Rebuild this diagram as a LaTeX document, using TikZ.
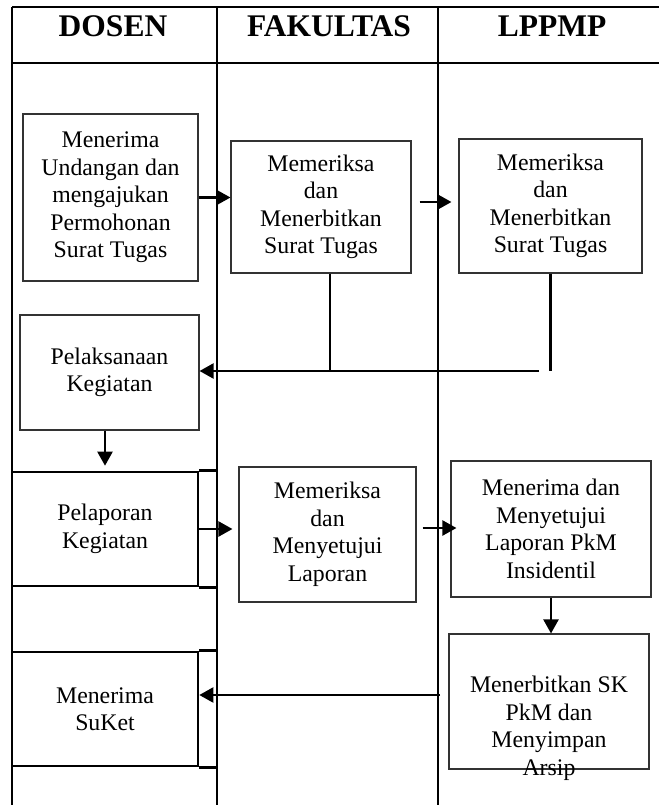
\documentclass[tikz,border=0pt]{standalone}
\usepackage{fontspec}
\setmainfont{Liberation Serif}
\usetikzlibrary{arrows.meta}
\begin{document}
\begin{tikzpicture}[x=1pt, y=-1pt,
	teks/.style = {align=center, inner sep=0pt, font=\fontsize{23.8}{27.5}\selectfont},
	kotak/.style = {teks, draw=black!80, line width=1.1pt},
	sel/.style = {teks, draw, line width=2.6pt, minimum width=186pt, minimum height=114pt},
	judul/.style = {anchor=base, font=\fontsize{31.5}{31.5}\selectfont\bfseries},
	garis/.style = {line width=2.6pt},
	sambung/.style = {line width=2.2pt},
	panah/.style = {line width=2.2pt, -{Triangle[length=14pt, width=15pt]}},]
		\useasboundingbox (0,0) rectangle (659,805);
		
		\draw[garis] (12,7) -- (659,7);
		\draw[garis] (12,63) -- (659,63);
		\draw[garis] (12,7) -- (12,805);
		\draw[garis] (217,7) -- (217,805);
		\draw[garis] (438,7) -- (438,805);
		
		\node[judul] (dosen) at (113,37) {DOSEN};
		\node[judul] (fakultas) at (329,37) {FAKULTAS};
		\node[judul] (lppmp) at (552,37) {LPPMP};
		
		\node[kotak, minimum width=175pt, minimum height=167pt] (terima) at (110.5,197.5) {Menerima\\Undangan dan\\mengajukan\\Permohonan\\Surat Tugas};
		\node[kotak, minimum width=180pt, minimum height=132pt] (periksa1) at (321,207) {Memeriksa\\dan\\Menerbitkan\\Surat Tugas};
		\node[kotak, minimum width=183pt, minimum height=134pt] (terbit) at (550.5,206) {Memeriksa\\dan\\Menerbitkan\\Surat Tugas};
		\node[kotak, minimum width=179pt, minimum height=115pt] (laksana) at (109.5,372.5) {Pelaksanaan\\Kegiatan};
		\node[sel] (lapor) at (105,529) {Pelaporan\\Kegiatan};
		\node[kotak, minimum width=177pt, minimum height=135pt] (setuju) at (327.5,534.5) {Memeriksa\\dan\\Menyetujui\\Laporan};
		\node[kotak, minimum width=200pt, minimum height=136pt] (terimalap) at (551,529) {Menerima dan\\Menyetujui\\Laporan PkM\\Insidentil};
		\node[kotak, minimum width=200pt, minimum height=135pt] (sk) at (549,701.5) {};
		\node[teks] (skteks) at ([yshift=-27pt]sk.center) {Menerbitkan SK\\PkM dan\\Menyimpan\\Arsip};
		\node[sel] (suket) at (105,709) {Menerima\\SuKet};
		
		\draw[garis] (lapor.north east) -- ++(19,0);
		\draw[garis] (lapor.south east) -- ++(19,0);
		\draw[garis] (suket.north east) -- ++(19,0);
		\draw[garis] (suket.south east) -- ++(19,0);
		
		\coordinate (belokA) at (330,371);
		\coordinate (belokB) at (539,371);
		\coordinate (mulaiC) at (440,695);
		
		\draw[panah] (terima) -- (terima -| periksa1.west);
		\draw[panah, shorten <=8pt, shorten >=7pt] ([yshift=5pt]periksa1.east) -- ([yshift=5pt]periksa1.east -| terbit.west);
		\draw[sambung] (periksa1.south -| belokA) -- (belokA);
		\draw[sambung] (terbit.south) -- (terbit.south |- belokB);
		\draw[panah] (belokB) -- (belokB -| laksana.east);
		\draw[panah, shorten >=5pt] (laksana.south -| lapor.north) -- (lapor.north);
		\draw[panah, shorten >=6pt] (lapor.east) -- (lapor.east -| setuju.west);
		\draw[panah, shorten <=6pt, shorten >=-6pt] ([yshift=6.5pt]setuju.east) -- ([yshift=6.5pt]setuju.east -| terimalap.west);
		\draw[panah] (terimalap.south) -- (terimalap.south |- sk.north);
		\draw[panah] (mulaiC) -- (mulaiC -| suket.east);
	\end{tikzpicture}
\end{document}
